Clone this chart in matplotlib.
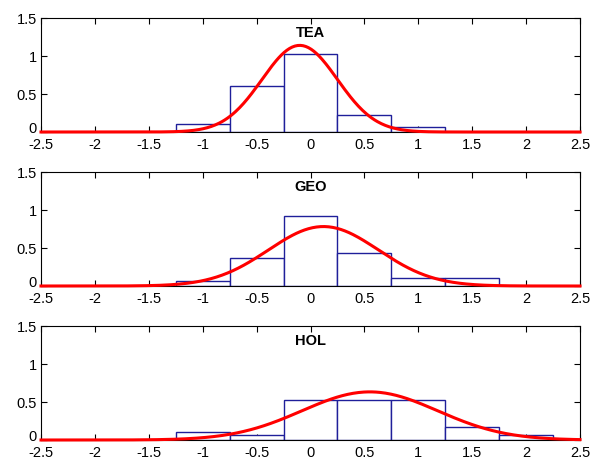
import numpy as np
import matplotlib
matplotlib.use("Agg")
import matplotlib.pyplot as plt
import matplotlib.transforms as mtransforms

plt.rcParams.update({
    "font.family": ["Liberation Sans", "DejaVu Sans"],
    "font.size": 10,
})

# ---- data ----
BIN_CENTERS = [-1.0, -0.5, 0.0, 0.5, 1.0, 1.5, 2.0]
BIN_WIDTH = 0.5

TITLES = ["TEA", "GEO", "HOL"]
TEA_HEIGHTS = [0.11, 0.60, 1.03, 0.22, 0.06, 0.0, 0.0]
GEO_HEIGHTS = [0.06, 0.37, 0.92, 0.44, 0.10, 0.10, 0.0]
HOL_HEIGHTS = [0.11, 0.06, 0.53, 0.53, 0.53, 0.17, 0.06]

# fitted normal curves: mean, std
FIT_MEAN = [-0.10, 0.12, 0.55]
FIT_STD = [0.35, 0.51, 0.63]

XTICKS = [-2.5, -2, -1.5, -1, -0.5, 0, 0.5, 1, 1.5, 2, 2.5]
YTICKS = [0, 0.5, 1, 1.5]

BLUE = "#1f1f9a"
RED = "#ff0000"

fig = plt.figure(figsize=(5.92, 4.65), dpi=100)
W, H = 592, 465
left, right = 41, 580
tops = [18, 172, 326]
ah = 114

heights = [TEA_HEIGHTS, GEO_HEIGHTS, HOL_HEIGHTS]
xs = np.linspace(-2.5, 2.5, 400)
nudge_up = mtransforms.ScaledTranslation(0, 3 / 72, fig.dpi_scale_trans)

for i in range(3):
    ax = fig.add_axes([left / W, (H - tops[i] - ah) / H, (right - left) / W, ah / H])
    ax.bar(BIN_CENTERS, heights[i], width=BIN_WIDTH, facecolor="white",
           edgecolor=BLUE, lw=1.0, zorder=2)
    pdf = np.exp(-0.5 * ((xs - FIT_MEAN[i]) / FIT_STD[i]) ** 2) / (FIT_STD[i] * np.sqrt(2 * np.pi))
    ax.plot(xs, pdf, color=RED, lw=2.2, zorder=3, clip_on=False)
    ax.set_xlim(-2.5, 2.5)
    ax.set_ylim(0, 1.5)
    ax.set_xticks(XTICKS)
    ax.set_xticklabels([f"{t:g}" for t in XTICKS])
    ax.set_yticks(YTICKS)
    ax.set_yticklabels([f"{t:g}" for t in YTICKS])
    ax.tick_params(direction="in", top=True, right=True, length=4, width=0.8,
                   labelsize=10.5, colors="black")
    ax.tick_params(axis="x", pad=4)
    ax.tick_params(axis="y", pad=3)
    # lift the "0" a touch so it does not sit on "-2.5"
    lab0 = ax.get_yticklabels()[0]
    lab0.set_transform(lab0.get_transform() + nudge_up)
    for s in ax.spines.values():
        s.set_linewidth(0.8)
    ax.text(0, 1.3, TITLES[i], ha="center", va="center", fontsize=10.5, fontweight="bold")

fig.savefig("out.png", dpi=100, facecolor="white")
